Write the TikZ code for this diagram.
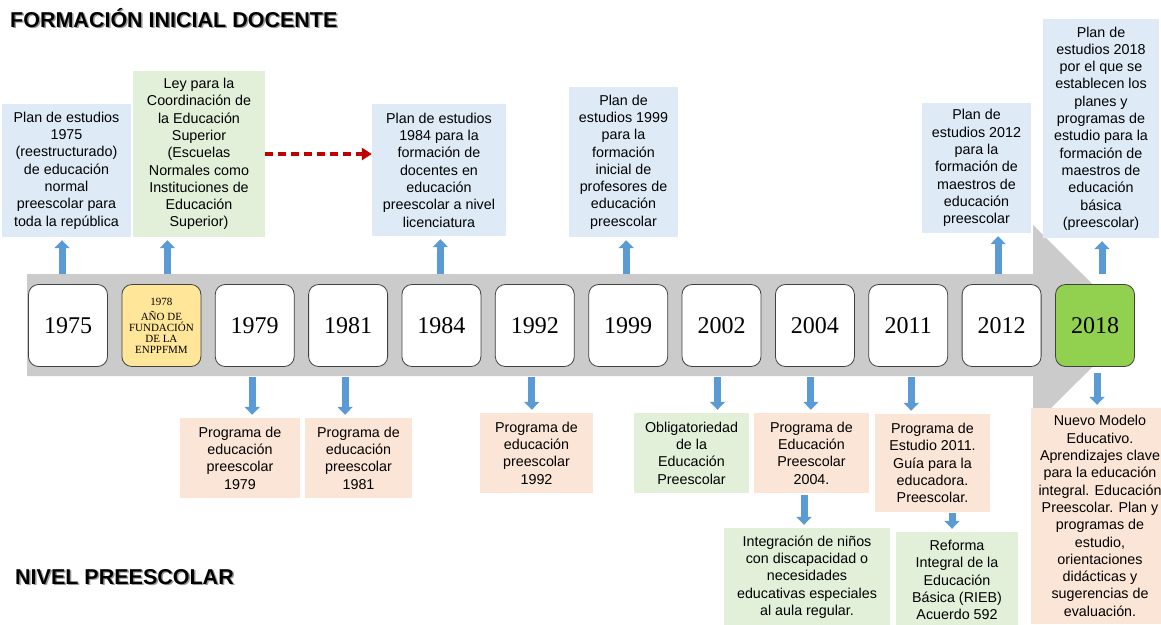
\documentclass[tikz,border=0pt]{standalone}
\usepackage{fontspec}
\setmainfont{Liberation Sans}
\newfontfamily\yearfont{Liberation Serif}
\usepackage{tikz}
\usetikzlibrary{arrows.meta,calc}
\definecolor{PlanBlue}{HTML}{DEEBF7}
\definecolor{LawGreen}{HTML}{E2F0D9}
\definecolor{ProgPeach}{HTML}{FBE5D6}
\definecolor{FoundGold}{HTML}{FFE699}
\definecolor{NewGreen}{HTML}{92D050}
\definecolor{BandGray}{HTML}{CBCBCB}
\definecolor{LinkBlue}{HTML}{5B9BD5}
\definecolor{LinkRed}{HTML}{C00000}

\tikzset{
  infobox/.style={fill=#1, align=center, inner sep=0pt,
    font=\fontsize{14.3}{17.3}\selectfont},
  yearbox/.style={draw=black!75, line width=0.8pt, rounded corners=10pt, fill=#1,
    minimum width=79pt, minimum height=82pt, inner sep=0pt,
    font=\yearfont\fontsize{24}{26}\selectfont},
  yearbox/.default=white,
  bluearrow/.style={draw=LinkBlue, line width=7pt, shorten >=3pt,
    -{Triangle[width=15pt,length=8pt]}},
  dasharrow/.style={draw=LinkRed, line width=4pt, dash pattern=on 8pt off 5pt,
    -{Triangle[width=12pt,length=10pt]}},
  heading/.style={anchor=base west, inner sep=0pt,
    font=\fontsize{21.5}{24}\selectfont\bfseries}
}

% blue block arrows, #4 = sideways offset of the shaft
\newcommand{\riseto}[4][10pt]{\draw[bluearrow, shorten <=#1] ($(#2.north)+(#4,0)$) -- ($(#2.north |- #3.south)+(#4,0)$);}
\newcommand{\dropto}[4][10pt]{\draw[bluearrow, shorten <=#1] ($(#2.south)+(#4,0)$) -- ($(#2.south |- #3.north)+(#4,0)$);}

\begin{document}
\begin{tikzpicture}[x=1pt,y=-1pt]
  \useasboundingbox (0,0) rectangle (1161,624);
  \clip (0,0) rectangle (1161,624);

  % headings
  \node[heading, text=black!40] (titleshade) at (11.5,28.5) {FORMACIÓN INICIAL DOCENTE};
  \node[heading] (title) at (10,27) {FORMACIÓN INICIAL DOCENTE};
  \node[heading, text=black!40] (levelshade) at (16.5,585.5) {NIVEL PREESCOLAR};
  \node[heading] (level) at (15,584) {NIVEL PREESCOLAR};

  % the time band
  \fill[BandGray] (27,274) -- (1033,274) -- (1033,225) -- (1134,325.5)
    -- (1033,426) -- (1033,376) -- (27,376) -- cycle;

  % years
  \node[yearbox] (y75) at (68,325.5) {1975};
  \node[yearbox=FoundGold, align=center, font=\yearfont\fontsize{11}{11}\selectfont]
    (y78) at (161.4,325.5) {1978\\[4pt]AÑO DE\\FUNDACIÓN\\DE LA\\ENPPFMM};
  \node[yearbox] (y79) at (254.7,325.5) {1979};
  \node[yearbox] (y81) at (348.1,325.5) {1981};
  \node[yearbox] (y84) at (441.4,325.5) {1984};
  \node[yearbox] (y92) at (534.8,325.5) {1992};
  \node[yearbox] (y99) at (628.2,325.5) {1999};
  \node[yearbox] (y02) at (721.5,325.5) {2002};
  \node[yearbox] (y04) at (814.9,325.5) {2004};
  \node[yearbox] (y11) at (908.2,325.5) {2011};
  \node[yearbox] (y12) at (1001.6,325.5) {2012};
  \node[yearbox=NewGreen] (y18) at (1095,325.5) {2018};

  % teacher training (above)
  \node[infobox=PlanBlue, minimum width=129pt, minimum height=133pt] (plan75) at (66.5,170.5)
    {Plan de estudios\\1975\\(reestructurado)\\de educación\\normal\\preescolar para\\toda la república};
  \node[infobox=LawGreen, minimum width=132pt, minimum height=166pt] (ley78) at (199,154)
    {Ley para la\\Coordinación de\\la Educación\\Superior\\(Escuelas\\Normales como\\Instituciones de\\Educación\\Superior)};
  \node[infobox=PlanBlue, minimum width=134pt, minimum height=132pt] (plan84) at (439,170)
    {Plan de estudios\\1984 para la\\formación de\\docentes en\\educación\\preescolar a nivel\\licenciatura};
  \node[infobox=PlanBlue, minimum width=109pt, minimum height=150pt] (plan99) at (623.5,162)
    {Plan de\\estudios 1999\\para la\\formación\\inicial de\\profesores de\\educación\\preescolar};
  \node[infobox=PlanBlue, minimum width=109pt, minimum height=130pt] (plan12) at (976.5,168)
    {Plan de\\estudios 2012\\para la\\formación de\\maestros de\\educación\\preescolar};
  \node[infobox=PlanBlue, minimum width=116pt, minimum height=219pt] (plan18) at (1101,128.5)
    {Plan de\\estudios 2018\\por el que se\\establecen los\\planes y\\programas de\\estudio para la\\formación de\\maestros de\\educación\\básica\\(preescolar)};

  % preschool level (below)
  \node[infobox=ProgPeach, minimum width=120pt, minimum height=80pt] (prog79) at (240,458)
    {Programa de\\educación\\preescolar\\1979};
  \node[infobox=ProgPeach, minimum width=107pt, minimum height=80pt] (prog81) at (358.5,458)
    {Programa de\\educación\\preescolar\\1981};
  \node[infobox=ProgPeach, minimum width=113pt, minimum height=80pt] (prog92) at (536.5,453)
    {Programa de\\educación\\preescolar\\1992};
  \node[infobox=LawGreen, minimum width=115pt, minimum height=80pt] (oblig02) at (691.5,453)
    {Obligatoriedad\\de la\\Educación\\Preescolar};
  \node[infobox=ProgPeach, minimum width=115pt, minimum height=80pt] (prog04) at (811.5,453)
    {Programa de\\Educación\\Preescolar\\2004.};
  \node[infobox=ProgPeach, minimum width=115pt, minimum height=98pt] (prog11) at (932.5,463)
    {Programa de\\Estudio 2011.\\Guía para la\\educadora.\\Preescolar.};
  \node[infobox=LawGreen, minimum width=166pt, minimum height=98pt] (integ04) at (807,577)
    {Integración de niños\\con discapacidad o\\necesidades\\educativas especiales\\al aula regular.};
  \node[infobox=LawGreen, minimum width=122pt, minimum height=96pt] (rieb11) at (957,580)
    {Reforma\\Integral de la\\Educación\\Básica (RIEB)\\Acuerdo 592};
  \node[infobox=ProgPeach, minimum width=138pt, minimum height=216pt] (modelo18) at (1100,516)
    {Nuevo Modelo\\Educativo.\\Aprendizajes clave\\para la educación\\integral. Educación\\Preescolar. Plan y\\programas de\\estudio,\\orientaciones\\didácticas y\\sugerencias de\\evaluación.};

  % links
  \riseto{y75}{plan75}{-6}
  \riseto{y78}{ley78}{6}
  \riseto{y84}{plan84}{-1}
  \riseto{y99}{plan99}{-2}
  \riseto{y12}{plan12}{-3.5}
  \riseto{y18}{plan18}{7}
  \dropto{y79}{prog79}{-2.5}
  \dropto{y81}{prog81}{-3}
  \dropto{y92}{prog92}{-3}
  \dropto{y02}{oblig02}{-4}
  \dropto{y04}{prog04}{-4}
  \dropto{y11}{prog11}{3}
  \dropto[6pt]{y18}{modelo18}{2}
  \dropto[2pt]{prog04}{integ04}{-7.5}
  \dropto[1pt]{prog11}{rieb11}{19.5}
  \draw[dasharrow] (ley78.east) -- (ley78.east -| plan84.west);
\end{tikzpicture}
\end{document}
